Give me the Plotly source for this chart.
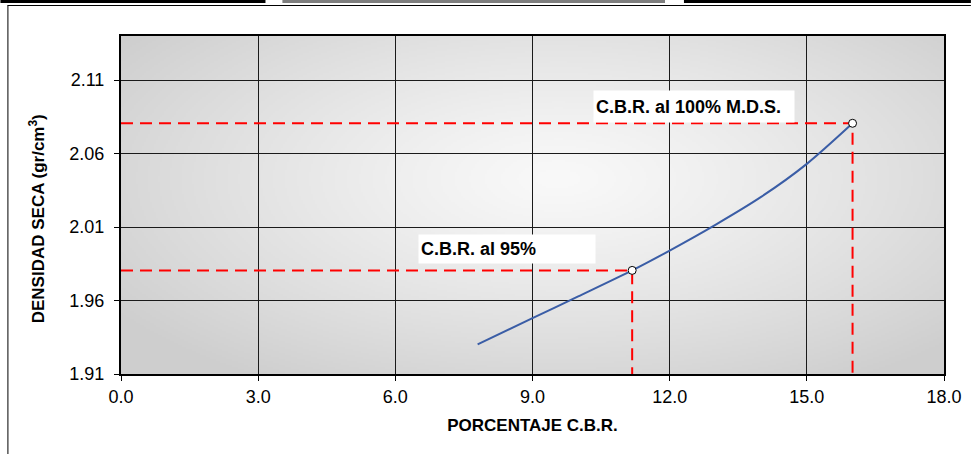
import base64
import struct
import zlib

import numpy as np
import plotly.graph_objects as go

# Curve of dry density vs. CBR percentage
cbr = [7.8, 9.0, 10.0, 11.18, 12.0, 13.0, 14.0, 15.0, 16.0]
densidad = [1.9302, 1.9480, 1.9628, 1.9805, 1.9940, 2.0115, 2.0305, 2.0530, 2.0806]

# Reference points read on the curve
cbr_95, dens_95 = 11.18, 1.9805
cbr_100, dens_100 = 16.0, 2.0806

x_ticks = [0.0, 3.0, 6.0, 9.0, 12.0, 15.0, 18.0]
y_ticks = [1.91, 1.96, 2.01, 2.06, 2.11]
x_range = [0.0, 18.0]
y_range = [1.91, 2.14]

W, H = 974, 454
ML, MR, MT, MB = 121, 27, 36, 80
PW, PH = W - ML - MR, H - MT - MB
FONT = "Arial, 'Liberation Sans', sans-serif"


def px_to_paper(px, py):
    return (px - ML) / PW, (H - MB - py) / PH


def grey_png_uri(arr):
    h, w = arr.shape
    raw = b"".join(b"\x00" + row.tobytes() for row in arr)

    def chunk(tag, data):
        return (struct.pack(">I", len(data)) + tag + data
                + struct.pack(">I", zlib.crc32(tag + data) & 0xFFFFFFFF))

    png = (b"\x89PNG\r\n\x1a\n"
           + chunk(b"IHDR", struct.pack(">IIBBBBB", w, h, 8, 0, 0, 0, 0))
           + chunk(b"IDAT", zlib.compress(raw, 9))
           + chunk(b"IEND", b""))
    return "data:image/png;base64," + base64.b64encode(png).decode()


# Radial grey fill of the plotting area (light centre, darker edges)
gh, gw = 170, 413
yy, xx = np.mgrid[0:gh, 0:gw].astype(float)
d = np.sqrt(((xx - gw * 0.53) / (gw * 0.5)) ** 2 + ((yy - gh * 0.42) / (gh * 0.55)) ** 2)
shade = np.clip(249 - 31 * d ** 1.2, 206, 255).astype(np.uint8)
bg_uri = grey_png_uri(shade)

fig = go.Figure()

# Red dashed guide lines for both reference points
for cx, cy in [(cbr_95, dens_95), (cbr_100, dens_100)]:
    fig.add_trace(go.Scatter(
        x=[x_range[0], cx, cx], y=[cy, cy, y_range[0]],
        mode="lines", line=dict(color="#ff0000", width=2, dash="12px,7px"),
        hoverinfo="skip", showlegend=False))

fig.add_trace(go.Scatter(
    x=cbr, y=densidad, mode="lines",
    line=dict(color="#3a5da6", width=2, shape="spline", smoothing=0.8),
    showlegend=False))

fig.add_trace(go.Scatter(
    x=[cbr_95, cbr_100], y=[dens_95, dens_100], mode="markers",
    marker=dict(size=8, color="white", line=dict(color="black", width=1)),
    showlegend=False))

fig.add_layout_image(dict(
    source=bg_uri, xref="x", yref="y", x=x_range[0], y=y_range[1],
    sizex=x_range[1] - x_range[0], sizey=y_range[1] - y_range[0],
    sizing="stretch", layer="below"))

# Point labels in white boxes
fig.add_annotation(x=10.33, y=2.0919, xref="x", yref="y", xanchor="left", yanchor="middle",
                   text="<b>C.B.R. al 100% M.D.S.</b>", showarrow=False, align="left",
                   width=196, height=27, borderpad=2, bgcolor="white",
                   font=dict(family=FONT, size=18, color="black"))
fig.add_annotation(x=6.49, y=1.9953, xref="x", yref="y", xanchor="left", yanchor="middle",
                   text="<b>C.B.R. al 95%</b>", showarrow=False, align="left",
                   width=172, height=24, borderpad=2, bgcolor="white",
                   font=dict(family=FONT, size=18, color="black"))

# Y axis title
tx, ty = px_to_paper(37, 219)
fig.add_annotation(x=tx, y=ty, xref="paper", yref="paper", xanchor="center", yanchor="middle",
                   text="<b>DENSIDAD SECA (gr/cm<sup>3</sup>)</b>", textangle=-90, showarrow=False,
                   font=dict(family=FONT, size=17, color="black"))

# Outer frame fragments
segments = [((0, 1.5), (266, 1.5), "black", 3), ((283, 1.5), (667, 1.5), "#7f7f7f", 3),
            ((686, 1.5), (974, 1.5), "black", 3), ((7, 5.5), (974, 5.5), "black", 1),
            ((7.5, 5.5), (7.5, 454), "black", 1)]
for (x0, y0), (x1, y1), col, lw in segments:
    a0, b0 = px_to_paper(x0, y0)
    a1, b1 = px_to_paper(x1, y1)
    fig.add_shape(type="line", xref="paper", yref="paper", x0=a0, y0=b0, x1=a1, y1=b1,
                  line=dict(color=col, width=lw))

axis_common = dict(showgrid=True, gridcolor="#1a1a1a", gridwidth=1, showline=True,
                   linecolor="black", linewidth=2, mirror=True, ticks="outside",
                   ticklen=5, tickcolor="black", zeroline=False,
                   tickfont=dict(family=FONT, size=18, color="black"))

fig.update_xaxes(range=x_range, tickvals=x_ticks, ticktext=[f"{v:.1f}" for v in x_ticks],
                 title=dict(text="<b>PORCENTAJE C.B.R.</b>", standoff=14,
                            font=dict(family=FONT, size=17, color="black")),
                 **axis_common)
fig.update_yaxes(range=y_range, tickvals=y_ticks, ticktext=[f"{v:.2f}" for v in y_ticks],
                 ticklabelstandoff=6, **axis_common)

fig.update_layout(width=W, height=H, margin=dict(l=ML, r=MR, t=MT, b=MB),
                  paper_bgcolor="white", plot_bgcolor="#e6e6e6", showlegend=False)

fig.write_html("out.html")
